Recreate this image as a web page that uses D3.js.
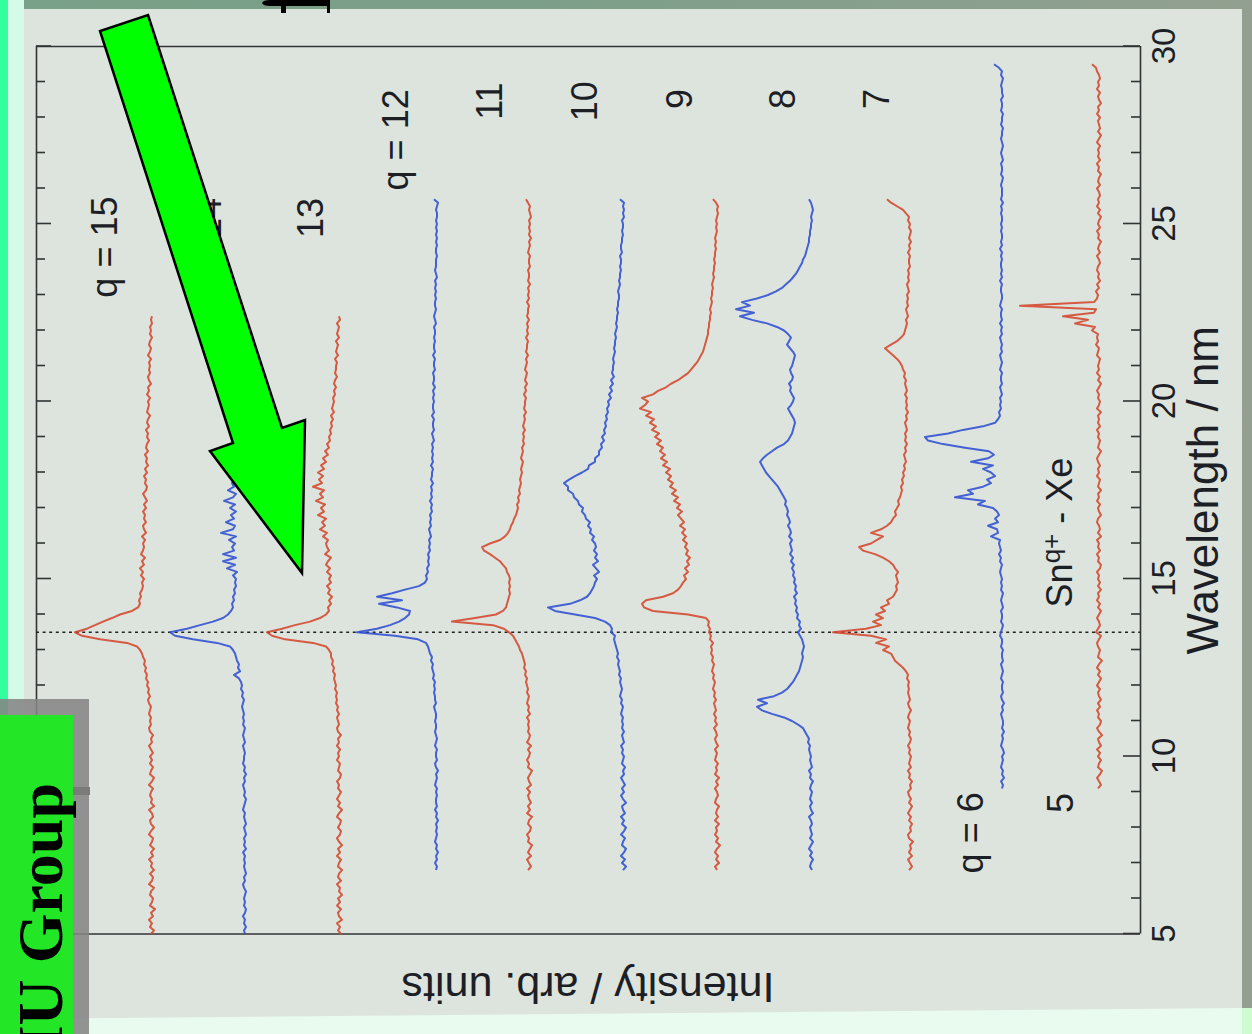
<!DOCTYPE html>
<html>
<head>
<meta charset="utf-8">
<script src="https://cdn.jsdelivr.net/npm/d3@7"></script>
<style>
  html, body { margin: 0; padding: 0; background: #dde4de; overflow: hidden; }
  text { font-family: "Liberation Sans", Arial, Helvetica, sans-serif; }
</style>
</head>
<body>
<svg id="chart" width="1252" height="1034"></svg>
<script>
// ---- Sn^q+ + Xe charge-exchange spectra (stacked, intensity in arb. units) ----
const charges = [5, 6, 7, 8, 9, 10, 11, 12, 13, 14, 15];
// vertical offset of each stacked spectrum (arb. units)
const offsets = [40, 137, 229, 328, 422, 515, 610, 703, 800, 895, 988];
// first wavelength of each spectrum (nm); samples every 0.1 nm
const startWavelength = [9.1, 9.1, 6.8, 6.8, 6.8, 6.8, 6.8, 6.8, 5.0, 5.0, 5.0];
const sampleStep = 0.1;

const spectrumQ5 = [2,-1,1,3,0,-2,2,1,-1,
  2,0,3,-1,1,2,-2,1,3,0, -1,2,1,3,0,2,-1,1,2,0, 3,1,-1,2,0,3,1,-2,2,1,
  0,2,3,1,-1,4,2,0,1,3, 1,-1,2,0,3,1,2,-1,2,0, 2,1,3,0,-1,2,1,3,0,2,
  1,3,-1,2,0,1,3,2,-1,1, 2,0,3,1,2,-1,2,1,0,3, 1,2,0,2,3,1,-1,2,1,0,
  2,1,3,0,2,1,2,-1,3,1, 0,2,1,3,1,-1,2,0,3,1, 2,1,0,3,2,1,4,2,3,2,
  8,5,25,12,37,6,4,80,6,3, 2,4,1,3,0,2,1,3,2,0, 1,3,0,2,1,-1,2,1,3,0,
  2,1,-1,2,0,3,1,2,0,1, 3,0,2,1,-1,2,1,3,0,2, 1,2,0,3,1,-1,2,0,1,2,
  0,3,1,2,-1,1,2,0,3,1, 2,0,1,3,4,8];

const spectrumQ6 = [1,0,2,-1,1,0,2,1,0,
  1,-1,0,2,1,0,1,-1,1,0, 0,1,2,0,1,-1,1,2,0,1, 1,0,2,1,0,1,2,0,1,1,
  0,2,1,1,3,2,1,0,2,1, 1,2,0,1,2,1,0,2,1,2, 1,2,3,2,1,3,2,4,2,3,
  4,3,12,5,6,15,5,8,4,6, 10,25,18,48,30,35,20,12,16,8, 12,20,10,32,15,9,14,38,60,75,
  78,55,40,20,8,5,3,4,2,3, 2,3,1,2,3,1,2,2,1,3, 2,1,2,3,1,2,1,2,3,1,
  2,1,3,1,2,2,1,3,2,1, 1,2,2,1,3,1,2,1,2,2, 1,2,1,3,1,2,1,1,2,1,
  2,1,1,2,1,2,0,2,1,1, 1,2,1,0,2,1,1,2,0,1, 2,1,0,1,2,1,1,0,2,1,
  1,0,2,1,1,2,0,1,1,2, 1,0,2,1,4,9];

const spectrumQ7 = [2,-1,
  1,3,-1,2,0,1,-2,2,3,0, 1,-1,2,0,3,1,-1,2,0,2, 3,0,1,-1,2,1,3,0,2,1,
  0,2,1,3,1,0,2,1,3,2, 1,3,2,0,2,3,1,2,3,2, 3,2,4,3,5,8,12,16,18,20,
  28,22,35,25,40,78,45,30,38,28, 35,26,30,22,24,18,16,14,15,13, 14,15,13,16,18,22,28,36,48,52,
  40,34,28,40,30,24,20,18,15,16, 14,12,13,11,10,9,10,8,9,7, 8,6,7,5,6,7,5,6,4,6,
  5,6,4,5,6,4,5,3,5,4, 5,4,6,4,5,6,5,7,6,8, 9,11,14,18,22,26,20,14,10,7,
  6,5,4,5,3,4,5,3,4,3, 4,2,3,4,2,3,2,3,1,2, 2,1,3,1,2,0,2,1,0,2,
  1,3,2,5,8,14,20,24];

const spectrumQ8 = [0,2,
  1,-1,2,0,3,1,-1,2,0,1, 2,0,1,3,-1,1,2,0,2,1, 0,2,1,-1,2,1,3,0,1,2,
  1,2,3,2,4,3,5,7,9,14, 20,28,40,50,55,45,54,38,30,25, 22,19,17,15,13,12,11,10,9,10,
  9,8,9,10,12,14,11,13,12,15, 14,16,15,17,16,18,15,17,16,18, 17,19,18,20,18,21,19,22,20,21,
  22,20,23,21,22,24,22,23,25,24, 25,27,26,28,30,32,34,37,40,43, 46,48,50,52,49,45,40,35,28,24,
  22,20,19,18,17,18,20,22,24,21, 19,18,20,22,21,23,20,19,21,22, 20,19,18,17,19,22,25,23,21,24,
  28,35,45,60,72,58,76,62,70,55, 44,36,30,26,22,19,16,14,12,10, 9,7,6,5,4,3,3,2,2,1,
  1,0,1,0,-1,0,1,3];

const spectrumQ9 = [1,3,
  -1,2,0,3,1,-2,2,0,3,1, 2,-1,3,0,2,1,-1,3,2,0, 1,3,0,2,-1,3,1,2,0,3,
  2,1,3,0,2,3,1,2,4,1, 3,2,4,2,3,4,2,4,3,5, 4,3,5,4,6,5,4,6,5,7,
  6,7,5,8,7,9,8,10,9,12, 30,65,74,76,72,55,45,40,37,35, 32,34,30,33,29,31,28,32,30,33,
  31,35,32,36,33,38,34,37,40,36, 41,38,44,40,46,42,48,45,50,47, 52,48,55,51,57,53,58,55,61,57,
  63,59,66,62,68,64,72,67,78,73, 70,76,65,60,52,47,40,35,30,27, 24,21,19,17,15,14,13,12,11,10,
  10,9,9,8,8,7,8,7,6,7, 6,6,5,6,5,4,5,4,4,3, 4,3,3,2,3,2,3,2,1,2,
  1,2,1,0,1,0,2,5];

const spectrumQ10 = [2,-1,
  3,0,4,1,-1,3,2,0,4,1, -1,3,1,4,0,2,3,-1,2,4, 1,3,0,2,4,1,2,0,3,2,
  1,3,2,4,1,2,3,1,3,2, 3,2,4,3,2,4,3,5,4,3, 4,5,4,6,5,6,7,6,8,7,
  8,9,10,11,10,14,13,15,20,30, 50,70,77,55,45,38,35,33,31,30, 28,31,26,29,32,27,30,28,31,29,
  30,33,31,35,34,37,35,39,40,43, 42,46,47,51,52,57,57,61,56,50, 43,37,36,30,30,26,26,23,24,21,
  23,20,21,19,20,18,19,17,18,16, 17,14,16,13,15,12,14,11,13,12, 12,11,12,11,10,11,10,10,9,10,
  9,8,9,8,8,7,8,7,7,6, 6,7,6,5,6,5,5,4,5,4, 4,5,3,4,4,3,3,2,3,2,
  2,3,1,2,1,2,1,5];

const spectrumQ11 = [2,-1,
  1,3,-1,2,0,-2,2,1,3,0, -1,2,1,-2,3,0,2,-1,1,2, 0,3,-1,1,2,0,-2,2,1,3,
  1,0,2,-1,3,1,0,2,1,2, 1,3,0,2,1,3,2,1,3,2, 3,4,3,5,4,6,5,6,7,8,
  10,11,13,15,17,21,26,37,78,55, 34,27,24,23,22,21,20,21,20,21, 20,21,23,24,27,30,35,40,46,48,
  40,30,25,22,20,19,17,16,14,13, 12,13,11,12,10,11,10,9,10,9, 8,9,8,7,9,8,7,8,6,7,
  6,7,5,7,6,5,6,4,6,5, 5,4,6,4,5,3,5,4,3,5, 4,3,4,2,4,3,3,2,4,2,
  3,2,3,1,3,2,2,1,3,1, 2,1,2,0,2,1,1,2,0,1, 1,0,2,1,0,1,-1,1,0,1,
  0,1,-1,0,1,0,2,4];

const spectrumQ12 = [1,0,
  2,0,1,-1,1,0,2,1,0,1, 0,1,-1,1,0,2,0,1,1,0, 1,0,2,1,0,1,-1,1,2,0,
  1,1,0,2,1,0,1,2,1,1, 2,1,1,2,3,1,2,2,3,2, 3,2,4,3,4,5,4,6,5,7,
  8,9,11,19,42,80,60,47,38,32, 28,27,40,58,35,60,45,32,18,12, 10,11,9,10,8,9,8,9,7,8,
  7,8,6,7,8,6,7,6,7,5, 6,5,7,5,6,5,6,4,6,5, 5,4,6,4,5,4,5,4,5,3,
  4,5,3,4,4,3,5,3,4,4, 3,4,3,4,2,4,3,3,4,2, 3,3,2,4,2,3,3,2,3,2,
  2,3,1,2,3,2,1,2,2,1, 2,1,2,1,2,0,1,2,1,1, 1,0,1,1,0,1,0,1,0,1,
  0,1,0,0,1,0,-1,3];

const spectrumQ13 = [-1,2,0,3,-2,1,2,-1,3,0,
  2,-2,1,0,3,-1,2,1,-2,2, 1,-1,3,0,2,-2,1,3,0,-1, 2,0,-1,3,1,-2,2,0,3,1,
  -1,2,1,3,0,-1,2,1,0,3, 1,2,0,3,1,2,-1,2,3,1, 2,3,1,3,2,4,3,4,3,5,
  4,5,6,5,7,6,8,7,9,9, 11,14,27,55,68,73,58,45,30,20, 14,11,12,9,11,8,12,10,13,9,
  11,9,13,10,14,12,9,15,11,13, 14,12,17,13,20,15,18,14,22,16, 19,15,24,17,20,16,27,18,21,17,
  22,16,19,14,17,12,15,11,13,10, 11,9,10,8,9,7,9,6,8,7, 6,7,5,6,4,6,5,3,5,4,
  4,3,5,2,4,3,2,4,1,3, 2,1,3,0,1];

const spectrumQ14 = [0,1,-1,1,0,2,0,-1,1,0,
  1,0,-1,1,2,0,1,-1,0,1, 0,1,0,2,-1,1,0,1,-1,0, 1,-1,0,1,0,2,1,0,-1,1,
  0,1,2,0,1,-1,1,0,2,1, 1,0,1,2,0,1,2,1,0,2, 1,2,1,2,3,2,1,3,2,4,
  3,4,6,11,5,7,6,8,9,10, 12,15,28,52,70,75,58,45,32,22, 17,14,12,13,11,12,10,11,9,10,
  9,12,8,18,10,22,9,22,11,13, 10,16,9,24,12,10,19,11,14,9, 15,10,21,12,9,17,11,13,10,16,
  9,11,8,10,9,8,10,7,9,8, 8,7,9,6,8,7,6,8,6,7, 6,5,7,5,6,4,6,5,4,5,
  4,5,3,4,4,3,4,2,3,3, 2,3,2,1,2];

const spectrumQ15 = [1,-2,2,0,3,-1,1,-3,2,0,
  -1,2,1,-2,3,0,-1,2,-2,1, 0,3,-1,1,-2,2,0,-1,3,1, -2,1,2,-1,0,3,-2,1,0,2,
  1,-1,3,0,-2,2,1,-1,2,0, 2,-1,1,3,0,1,-1,2,3,1, 2,1,3,2,1,3,4,2,4,3,
  5,4,6,5,7,6,8,7,9,10, 12,15,25,52,70,77,65,57,49,40, 32,20,14,12,13,11,12,10,9,10,
  8,11,9,12,8,10,7,11,9,8, 9,7,10,6,8,9,6,8,7,9, 6,8,5,7,9,6,5,7,6,8,
  5,7,4,6,5,7,4,6,5,3, 5,4,6,3,5,4,2,5,4,3, 4,2,5,3,4,1,3,4,2,3,
  2,3,1,4,2,1,3,2,0,2, 1,2,0,1,0];

const spectra = [spectrumQ5, spectrumQ6, spectrumQ7, spectrumQ8, spectrumQ9, spectrumQ10,
                 spectrumQ11, spectrumQ12, spectrumQ13, spectrumQ14, spectrumQ15];

// axis ticks (nm)
const majorTicks = [5, 10, 15, 20, 25, 30];
const minorTicks = [6, 7, 8, 9, 11, 12, 13, 14, 16, 17, 18, 19, 21, 22, 23, 24, 26, 27, 28, 29];
const markerWavelength = 13.5;

// charge-state labels: text, wavelength of label centre, intensity level of baseline
const chargeLabels = [
  { text: "q = 15", w: 24.35, level: 1023 },
  { text: "14",     w: 25.17, level: 919 },
  { text: "13",     w: 25.17, level: 817 },
  { text: "q = 12", w: 27.37, level: 732 },
  { text: "11",     w: 28.46, level: 638 },
  { text: "10",     w: 28.46, level: 543 },
  { text: "9",      w: 28.52, level: 448 },
  { text: "8",      w: 28.52, level: 345 },
  { text: "7",      w: 28.52, level: 251 },
  { text: "q = 6",  w: 7.85,  level: 157 },
  { text: "5",      w: 8.69,  level: 67 }
];

const RED = "#d4472b", BLUE = "#2f4fd3", INK = "#1d1f26";

const svg = d3.select("#chart");

// ---------- slide background ----------
const defs = svg.append("defs");
const band = defs.append("linearGradient").attr("id", "topBand");
band.append("stop").attr("offset", "0%").attr("stop-color", "#79a088");
band.append("stop").attr("offset", "40%").attr("stop-color", "#7c9f89");
band.append("stop").attr("offset", "100%").attr("stop-color", "#93a091");

svg.append("rect").attr("width", 1252).attr("height", 1034).attr("fill", "#dde4de");
svg.append("rect").attr("x", 24).attr("y", 0).attr("width", 1228).attr("height", 9).attr("fill", "url(#topBand)");
svg.append("rect").attr("x", 1242).attr("y", 0).attr("width", 10).attr("height", 1034).attr("fill", "#93a091");
svg.append("polygon").attr("points", "0,1019 1242,1008 1252,1008 1252,1034 0,1034").attr("fill", "#e9fbee");
svg.append("rect").attr("x", 1242).attr("y", 1008).attr("width", 10).attr("height", 26).attr("fill", "#cdfccf");
svg.append("rect").attr("x", 8).attr("y", 0).attr("width", 16).attr("height", 1034).attr("fill", "#d3fbe8");
svg.append("rect").attr("x", 0).attr("y", 0).attr("width", 8).attr("height", 1034).attr("fill", "#33ff9f");

// ---------- chart, drawn in its own frame and turned a quarter turn ----------
const plotW = 887.5, plotH = 1104;
const g = svg.append("g").attr("transform", "translate(36,934) rotate(-90)");

const x = d3.scaleLinear().domain([5, 30]).range([0, plotW]);
const y = d3.scaleLinear().domain([0, 1104]).range([plotH, 0]);

// frame lines at both ends of the wavelength range
g.append("g").selectAll("line").data([5, 30]).join("line")
  .attr("x1", d => x(d)).attr("x2", d => x(d))
  .attr("y1", 0).attr("y2", plotH)
  .attr("stroke", "#333").attr("stroke-width", 1.6);

function styleAxis(sel) {
  sel.select(".domain").attr("stroke", "#333").attr("stroke-width", 1.6);
  sel.selectAll(".tick line").attr("stroke", "#333").attr("stroke-width", 1.6);
}

// wavelength axis with labels
const axisB = g.append("g").attr("transform", `translate(0,${plotH})`)
  .call(d3.axisBottom(x).tickValues(majorTicks).tickSizeInner(-17).tickSizeOuter(0).tickPadding(12));
styleAxis(axisB);
axisB.selectAll("text").attr("font-size", 33).attr("fill", INK)
  .style("font-family", '"Liberation Sans", Arial, sans-serif');
const axisBMinor = g.append("g").attr("transform", `translate(0,${plotH})`)
  .call(d3.axisBottom(x).tickValues(minorTicks).tickSize(-9).tickFormat(""));
axisBMinor.select(".domain").remove();
styleAxis(axisBMinor);

// opposite axis, ticks only
const axisT = g.append("g")
  .call(d3.axisTop(x).tickValues(majorTicks).tickSizeInner(-15).tickSizeOuter(0).tickFormat(""));
styleAxis(axisT);
const axisTMinor = g.append("g")
  .call(d3.axisTop(x).tickValues(minorTicks).tickSize(-9).tickFormat(""));
axisTMinor.select(".domain").remove();
styleAxis(axisTMinor);

// axis titles
g.append("text")
  .attr("x", x(17.5)).attr("y", plotH + 78)
  .attr("text-anchor", "middle").attr("font-size", 44).attr("fill", INK)
  .text("Wavelength / nm");
g.append("text")
  .attr("transform", `translate(-39,${plotH / 2}) rotate(-90)`)
  .attr("text-anchor", "middle").attr("font-size", 43).attr("fill", INK)
  .text("Intensity / arb. units");

// 13.5 nm marker
g.append("line")
  .attr("x1", x(markerWavelength)).attr("x2", x(markerWavelength))
  .attr("y1", 0).attr("y2", plotH)
  .attr("stroke", "#222").attr("stroke-width", 1.7).attr("stroke-dasharray", "3,3.6");

// spectra
const line = d3.line().x(d => x(d.w)).y(d => y(d.v));
spectra.forEach((vals, k) => {
  const pts = vals.map((v, i) => ({ w: startWavelength[k] + i * sampleStep, v: offsets[k] + v }));
  g.append("path")
    .datum(pts)
    .attr("d", line)
    .attr("fill", "none")
    .attr("stroke", charges[k] % 2 ? RED : BLUE)
    .attr("stroke-width", 2)
    .attr("stroke-linejoin", "round")
    .attr("opacity", 0.88);
});

// charge labels
g.append("g").selectAll("text").data(chargeLabels).join("text")
  .attr("x", d => x(d.w)).attr("y", d => y(d.level))
  .attr("text-anchor", "middle").attr("font-size", 36).attr("fill", INK)
  .text(d => d.text);

// collision system label
const sys = g.append("text")
  .attr("x", x(14.2)).attr("y", y(68))
  .attr("font-size", 36).attr("fill", INK);
sys.append("tspan").text("Sn");
sys.append("tspan").attr("font-size", 26).attr("dy", -12).text("q+");
sys.append("tspan").attr("dy", 12).text(" - Xe");

// ---------- slide decorations ----------
// piece of a large title glyph at the top edge
svg.append("path")
  .attr("d", "M262,3 Q263,0 270,0 L330,0 L330,13 L327,13 L327,6 L286,6 L286,13 L281,13 L281,6 L270,6 Q263,6 262,3 Z")
  .attr("fill", "#000");

// pointer arrow
svg.append("polygon")
  .attr("points", "148,15 282,428 305,420 302,573 210,451 233,443 100,31")
  .attr("fill", "#00ff00").attr("stroke", "#000").attr("stroke-width", 2.5)
  .attr("stroke-linejoin", "miter");

// group badge
svg.append("rect").attr("x", 0).attr("y", 699).attr("width", 89).attr("height", 335)
  .attr("fill", "#858585").attr("opacity", 0.88);
svg.append("rect").attr("x", 73).attr("y", 787).attr("width", 17).attr("height", 8).attr("fill", "#7b7b7b");
svg.append("rect").attr("x", 0).attr("y", 715).attr("width", 73).attr("height", 319).attr("fill", "#22e626");
svg.append("text")
  .attr("transform", "translate(62,783) rotate(-90)")
  .attr("text-anchor", "end")
  .style("font-family", '"Liberation Serif", "Times New Roman", serif')
  .attr("font-weight", "bold").attr("font-size", 64).attr("fill", "#000")
  .text("IU Group");
</script>
</body>
</html>
